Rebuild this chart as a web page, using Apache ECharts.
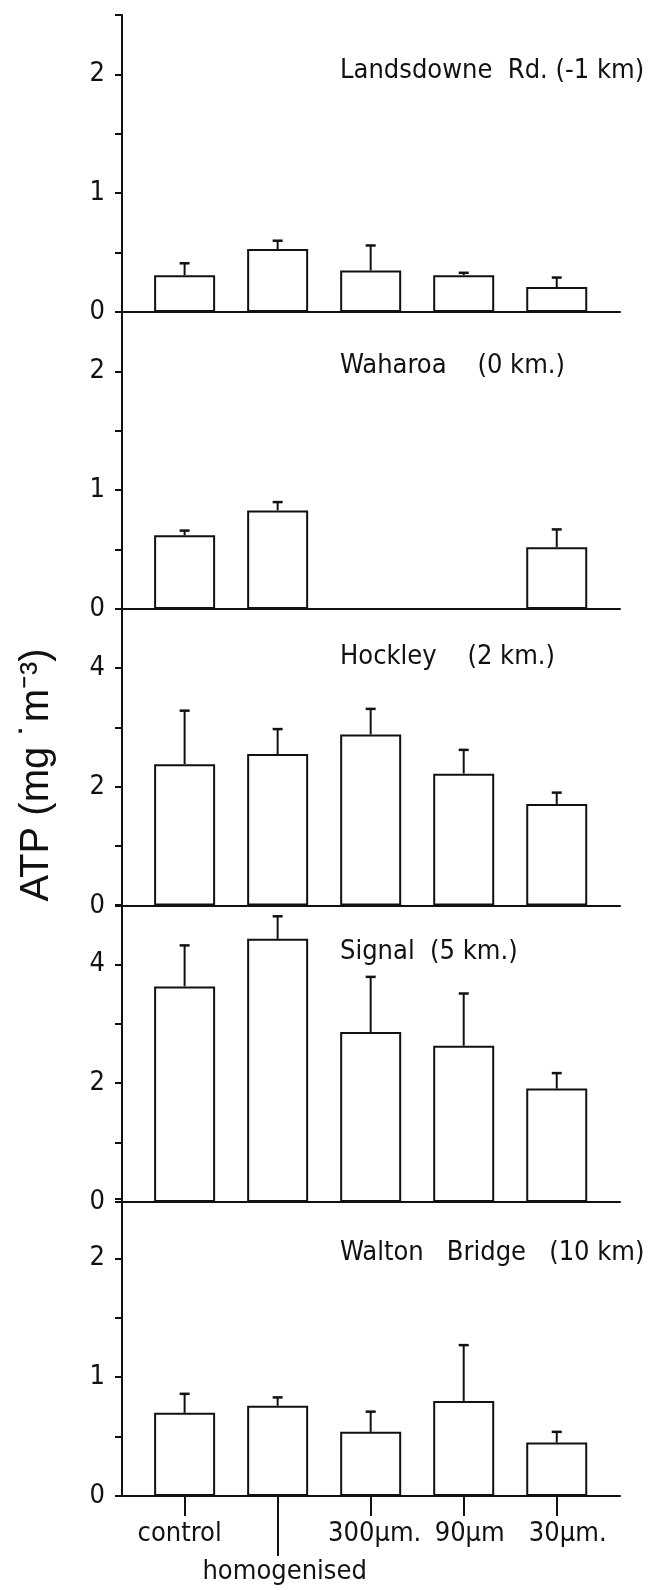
<!DOCTYPE html>
<html>
<head>
<meta charset="utf-8">
<script src="https://cdn.jsdelivr.net/npm/echarts@6/dist/echarts.min.js"></script>
<style>
  html, body { margin: 0; padding: 0; background: #fff; }
  #chart { width: 651px; height: 1590px; }
</style>
</head>
<body>
<div id="chart"></div>
<script>
// Size fractions on the shared x scale
const categories = ['control', 'homogenised', '300μm.', '90μm', '30μm.'];

// Sampling sites, top to bottom
const sites = ['Landsdowne  Rd. (-1 km)', 'Waharoa    (0 km.)', 'Hockley    (2 km.)', 'Signal  (5 km.)', 'Walton   Bridge   (10 km)'];

// Mean ATP (mg m-3) per size fraction and its upper error; null = not measured
const landsdowneMean = [0.31, 0.53, 0.35, 0.31, 0.21];
const landsdowneErr  = [0.10, 0.07, 0.21, 0.02, 0.08];
const waharoaMean    = [0.62, 0.83, null, null, 0.52];
const waharoaErr     = [0.04, 0.07, null, null, 0.15];
const hockleyMean    = [2.38, 2.55, 2.88, 2.22, 1.71];
const hockleyErr     = [0.90, 0.42, 0.43, 0.40, 0.19];
const signalMean     = [3.63, 4.43, 2.86, 2.63, 1.91];
const signalErr      = [0.69, 0.38, 0.93, 0.88, 0.26];
const waltonMean     = [0.70, 0.76, 0.54, 0.80, 0.45];
const waltonErr      = [0.16, 0.07, 0.17, 0.47, 0.09];

// Y axis ranges and tick steps per panel
const yMax       = [2.5, 2.5, 5, 5, 2.5];
const yTickStep  = [0.5, 0.5, 1, 1, 0.5];
const yLabelStep = [1, 1, 2, 2, 1];

const means = [landsdowneMean, waharoaMean, hockleyMean, signalMean, waltonMean];
const errs  = [landsdowneErr, waharoaErr, hockleyErr, signalErr, waltonErr];

// ---- layout ----
const PANEL_TOPS = [15, 312, 608.5, 905, 1199];
const PANEL_H = 297;
const GRID_LEFT = 122;
const GRID_RIGHT = 31;
const X_MIN = -0.673, X_MAX = 4.68;
const TITLE_Y = [71, 366, 657, 952, 1253];
const TITLE_X = 340;

const LETTER = "'DejaVu Sans Condensed', 'Liberation Sans Narrow', 'DejaVu Sans', sans-serif";
const INK = '#111';

// per-label nudges for the size-fraction names
const catRich = {};
[[0, 10, 0], [1, 0, 14], [2, 0, 8], [3, 0, 12], [4, 0, 22]].forEach(([i, r, l]) => {
  catRich['c' + i] = { fontSize: 27, fontFamily: LETTER, color: INK, padding: [0, r, 0, l] };
});
const catLabel = v => { const i = Math.round(v); return '{c' + i + '|' + categories[i] + '}'; };

const chart = echarts.init(document.getElementById('chart'), null, { renderer: 'canvas' });

const grids = [], xAxes = [], yAxes = [], series = [], graphics = [];

means.forEach((m, p) => {
  grids.push({ left: GRID_LEFT, right: GRID_RIGHT, top: PANEL_TOPS[p], height: PANEL_H });

  const last = p === means.length - 1;
  xAxes.push({
    type: 'value', gridIndex: p, min: X_MIN, max: X_MAX, position: 'bottom',
    axisLine: { show: true, onZero: false, lineStyle: { color: INK, width: 2 } },
    axisTick: last
      ? { show: true, customValues: [0, 2, 3, 4], length: 20, lineStyle: { color: INK, width: 2 } }
      : { show: false },
    axisLabel: last
      ? { show: true, customValues: [0, 2, 3, 4], formatter: catLabel, rich: catRich,
          margin: 24, color: INK, fontSize: 27, fontFamily: LETTER }
      : { show: false },
    splitLine: { show: false }
  });

  const step = yLabelStep[p];
  yAxes.push({
    type: 'value', gridIndex: p, min: 0, max: yMax[p], interval: yTickStep[p],
    axisLine: { show: true, onZero: false, lineStyle: { color: INK, width: 2 } },
    axisTick: { show: true, length: 7, lineStyle: { color: INK, width: 2 } },
    axisLabel: {
      margin: 17, color: INK, fontSize: 27, fontFamily: LETTER,
      formatter: v => (Math.abs(v / step - Math.round(v / step)) < 1e-6 ? String(Math.round(v)) : '')
    },
    splitLine: { show: false }
  });

  const barData = [], errData = [];
  m.forEach((v, i) => {
    if (v == null) return;
    barData.push([i, v]);
    errData.push([i, v, errs[p][i]]);
  });

  series.push({
    type: 'bar', xAxisIndex: p, yAxisIndex: p, barWidth: 61,
    data: barData,
    itemStyle: { color: '#fff', borderColor: INK, borderWidth: 2 },
    z: 2
  });

  series.push({
    type: 'custom', xAxisIndex: p, yAxisIndex: p, data: errData,
    encode: { x: 0, y: 1 }, z: 3,
    renderItem: (params, api) => {
      const x = api.value(0), v = api.value(1), e = api.value(2);
      const a = api.coord([x, v]);
      const b = api.coord([x, v + e]);
      return {
        type: 'group',
        children: [
          { type: 'line', shape: { x1: a[0], y1: a[1], x2: b[0], y2: b[1] },
            style: { stroke: INK, lineWidth: 2 } },
          { type: 'line', shape: { x1: b[0] - 5, y1: b[1], x2: b[0] + 5, y2: b[1] },
            style: { stroke: INK, lineWidth: 2.5 } }
        ]
      };
    }
  });

  graphics.push({
    type: 'text', x: TITLE_X, y: TITLE_Y[p],
    style: { text: sites[p], fill: INK, font: '27px ' + LETTER, textVerticalAlign: 'middle' }
  });
});

// Long tick and dropped label for the homogenised fraction
xAxes.push({
  type: 'value', gridIndex: 4, min: X_MIN, max: X_MAX, position: 'bottom', offset: 0,
  axisLine: { show: false },
  axisTick: { show: true, customValues: [1], length: 60, lineStyle: { color: INK, width: 2 } },
  axisLabel: { show: true, customValues: [1], formatter: catLabel, rich: catRich,
    margin: 62, color: INK, fontSize: 27, fontFamily: LETTER },
  splitLine: { show: false }
});

// Shared y-axis title
graphics.push({
  type: 'text', x: 37, y: 775, rotation: Math.PI / 2,
  style: {
    text: 'ATP (mg ˙m⁻³)', fill: INK,
    font: "40px 'Liberation Sans', Arial, sans-serif",
    textAlign: 'center', textVerticalAlign: 'middle'
  }
});

chart.setOption({
  animation: false,
  backgroundColor: '#fff',
  grid: grids,
  xAxis: xAxes,
  yAxis: yAxes,
  series: series,
  graphic: graphics
});
</script>
</body>
</html>
